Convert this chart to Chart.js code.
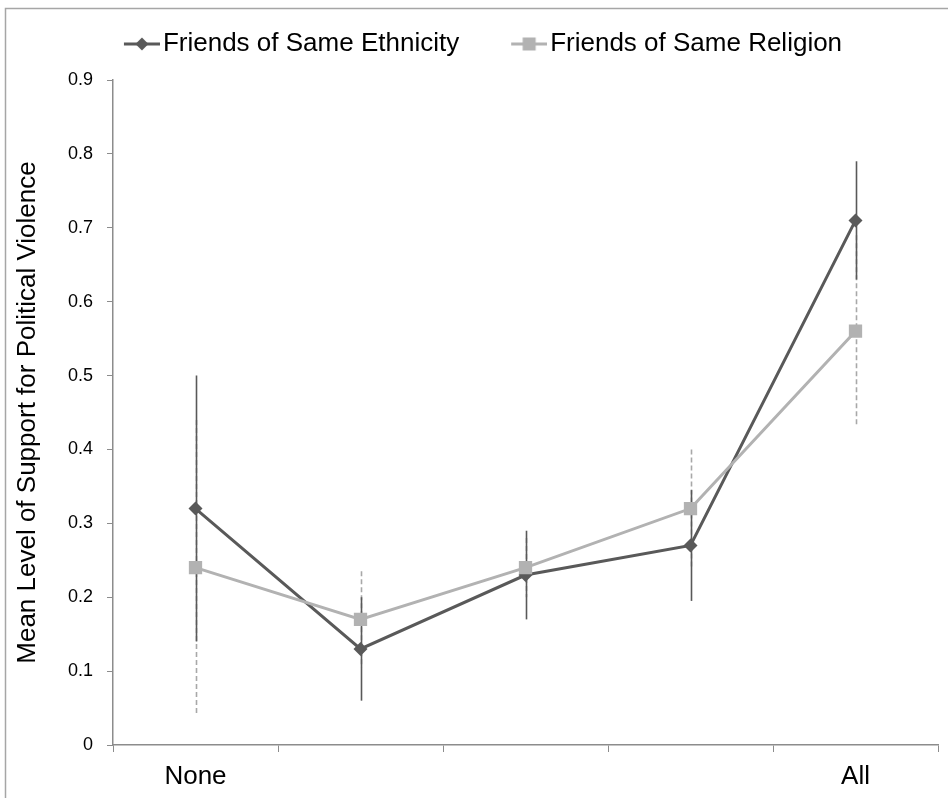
<!DOCTYPE html>
<html>
<head>
<meta charset="utf-8">
<script src="https://cdn.jsdelivr.net/npm/chart.js@4/dist/chart.umd.min.js"></script>
<style>
  html, body { margin: 0; padding: 0; background: #ffffff; }
  #wrap { position: relative; width: 948px; height: 798px; }
</style>
</head>
<body>
<div id="wrap"><canvas id="chart" width="948" height="798"></canvas></div>
<script>
// Share of friends who belong to the same group, from none to all
const categories = ['None', '', '', '', 'All'];

// Mean support for political violence, with error bar half-widths
const ethnicityMeans = [0.32, 0.13, 0.23, 0.27, 0.71];
const ethnicityErrors = [0.18, 0.07, 0.06, 0.075, 0.08];
const religionMeans = [0.24, 0.17, 0.24, 0.32, 0.56];
const religionErrors = [0.20, 0.065, 0.04, 0.08, 0.13];

const yTickLabels = ['0', '0.1', '0.2', '0.3', '0.4', '0.5', '0.6', '0.7', '0.8', '0.9'];

const DARK = '#595959';
const LIGHT = '#b2b2b2';
const AXIS = '#8c8c8c';
const FONT = "'Liberation Sans', Arial, sans-serif";

// Legend swatch: a short line with the series marker. The legend box is 54px wide
// and the image is centred on it, so the line is drawn in the right-hand part.
function legendSwatch(color, marker) {
  const c = document.createElement('canvas');
  c.width = 74; c.height = 18;
  const g = c.getContext('2d');
  g.strokeStyle = color;
  g.lineWidth = 3;
  g.beginPath();
  g.moveTo(38, 9);
  g.lineTo(74, 9);
  g.stroke();
  g.fillStyle = color;
  const cx = 56, cy = 9;
  if (marker === 'diamond') {
    g.beginPath();
    g.moveTo(cx, cy - 6.5);
    g.lineTo(cx + 6.5, cy);
    g.lineTo(cx, cy + 6.5);
    g.lineTo(cx - 6.5, cy);
    g.closePath();
    g.fill();
  } else {
    g.fillRect(cx - 6.5, cy - 6.5, 13, 13);
  }
  return c;
}

// Vertical error bars, drawn beneath the lines and markers
const errorBars = {
  id: 'errorBars',
  beforeDatasetsDraw(chart) {
    const ctx = chart.ctx;
    const y = chart.scales.y;
    [1, 0].forEach(di => {
      const ds = chart.data.datasets[di];
      const meta = chart.getDatasetMeta(di);
      if (!ds.errors || meta.hidden) return;
      ctx.save();
      ctx.strokeStyle = ds.errorColor;
      ctx.lineWidth = 1.6;
      ctx.setLineDash(ds.errorDash || []);
      meta.data.forEach((pt, i) => {
        const v = ds.data[i];
        const e = ds.errors[i];
        const x = Math.round(pt.x) + 0.5;
        ctx.beginPath();
        ctx.moveTo(x, y.getPixelForValue(v + e));
        ctx.lineTo(x, y.getPixelForValue(v - e));
        ctx.stroke();
      });
      ctx.restore();
    });
  }
};

// Outer frame around the chart
const frame = {
  id: 'frame',
  beforeDraw(chart) {
    const ctx = chart.ctx;
    ctx.save();
    ctx.strokeStyle = '#a6a6a6';
    ctx.lineWidth = 1.5;
    ctx.strokeRect(5.5, 8.5, 1200, 1200);
    ctx.restore();
  }
};

new Chart(document.getElementById('chart'), {
  type: 'line',
  data: {
    labels: categories,
    datasets: [
      {
        label: 'Friends of Same Ethnicity',
        data: ethnicityMeans,
        errors: ethnicityErrors,
        errorColor: DARK,
        errorDash: [],
        borderColor: DARK,
        backgroundColor: DARK,
        borderWidth: 3,
        pointStyle: 'rectRot',
        pointRadius: 7,
        pointHoverRadius: 7,
        pointBorderWidth: 0,
        tension: 0,
        order: 2,
        legendMarker: legendSwatch(DARK, 'diamond')
      },
      {
        label: 'Friends of Same Religion',
        data: religionMeans,
        errors: religionErrors,
        errorColor: '#a8a8a8',
        errorDash: [5, 3],
        borderColor: LIGHT,
        backgroundColor: LIGHT,
        borderWidth: 3,
        pointStyle: 'rect',
        pointRadius: 9.4,
        pointHoverRadius: 9.4,
        pointBorderWidth: 0,
        tension: 0,
        order: 1,
        legendMarker: legendSwatch(LIGHT, 'square')
      }
    ]
  },
  options: {
    responsive: false,
    animation: false,
    events: [],
    layout: { padding: { left: 0, right: 10, top: 7, bottom: 0 } },
    plugins: {
      tooltip: { enabled: false },
      // empty block that keeps a gap between the legend and the plot
      title: {
        display: true,
        text: '',
        weight: 500,
        padding: 0,
        font: { family: FONT, size: 13, lineHeight: 1 }
      },
      legend: {
        position: 'top',
        align: 'center',
        labels: {
          color: '#000000',
          font: { family: FONT, size: 26 },
          usePointStyle: true,
          pointStyleWidth: 54,
          boxHeight: 18,
          padding: 24,
          generateLabels(chart) {
            return chart.data.datasets.map((ds, i) => ({
              text: ds.label,
              pointStyle: ds.legendMarker,
              fillStyle: ds.backgroundColor,
              strokeStyle: ds.borderColor,
              lineWidth: 0,
              hidden: false,
              datasetIndex: i,
              fontColor: '#000000'
            }));
          }
        }
      }
    },
    scales: {
      x: {
        offset: true,
        grid: {
          offset: true,
          drawOnChartArea: false,
          drawTicks: true,
          tickLength: 7,
          color: AXIS,
          lineWidth: 1
        },
        border: { color: AXIS, width: 1.5 },
        ticks: {
          color: '#000000',
          font: { family: FONT, size: 26 },
          padding: 9,
          maxRotation: 0,
          autoSkip: false
        },
        afterFit(scale) { scale.height = 53; }
      },
      y: {
        min: 0,
        max: 0.9,
        grid: {
          drawOnChartArea: false,
          drawTicks: true,
          tickLength: 6,
          color: AXIS
        },
        border: { color: AXIS, width: 1.5 },
        ticks: {
          stepSize: 0.1,
          color: '#000000',
          font: { family: FONT, size: 18 },
          padding: 14,
          callback(value, index) { return yTickLabels[index]; }
        },
        title: {
          display: true,
          text: 'Mean Level of Support for Political Violence',
          color: '#000000',
          font: { family: FONT, size: 26 },
          padding: { top: 12, bottom: 0 }
        },
        afterFit(scale) { scale.width = 113; }
      }
    }
  },
  plugins: [frame, errorBars]
});
</script>
</body>
</html>
